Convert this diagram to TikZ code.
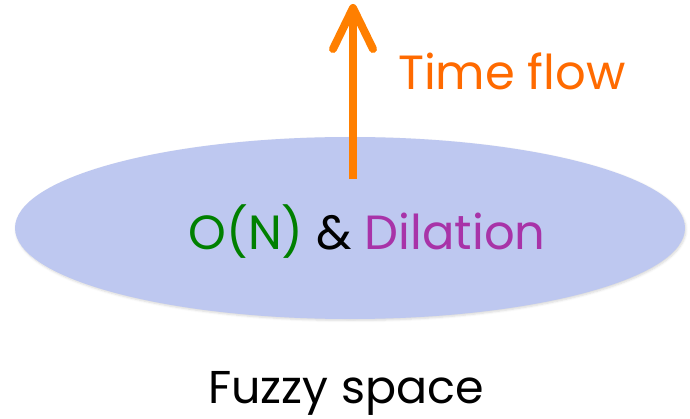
\documentclass[tikz,border=0pt]{standalone}
\usepackage{fontspec}
\setmainfont{Poppins}
\usetikzlibrary{shadows.blur,shapes.geometric}
\definecolor{ellfill}{HTML}{BEC8F0}
\definecolor{arroworange}{HTML}{FF7F00}
\definecolor{timeorange}{HTML}{FF6A00}
\definecolor{ongreen}{HTML}{008000}
\definecolor{dilpurple}{HTML}{A833A8}
\tikzset{
  space/.style={ellipse, fill=ellfill, minimum width=670pt, minimum height=182pt, inner sep=0pt,
    blur shadow={shadow xshift=1pt, shadow yshift=-1.5pt, shadow opacity=15, shadow blur steps=5}},
  lbl/.style={inner sep=0pt, font=\fontsize{48}{56}\selectfont},
  timearrow/.style={draw=arroworange, line width=8pt},
  chev/.style={draw=arroworange, line width=8pt, line cap=round, line join=round}
}
\begin{document}
\begin{tikzpicture}[x=1pt,y=-1pt]
\useasboundingbox (0,0) rectangle (690,419);
\node[space] (sp) at (350,228) {};
\node[lbl, anchor=base] (mid) at (367,250) {\textcolor{ongreen}{O(N)} \textcolor{black}{\&} \textcolor{dilpurple}{Dilation}};
\node[lbl, text=timeorange, anchor=base west] (tf) at (398,90) {Time flow};
\node[lbl, text=black, anchor=base, font=\fontsize{46}{52}\selectfont] (fz) at (346,403) {Fuzzy space};
\coordinate (base) at (353,179);
\coordinate (tip) at (353,8);
\coordinate (wl) at (333,49);
\coordinate (wr) at (373,49);
\draw[timearrow] (base) -- (tip);
\draw[chev] (wl) -- (tip) -- (wr);
\end{tikzpicture}
\end{document}
